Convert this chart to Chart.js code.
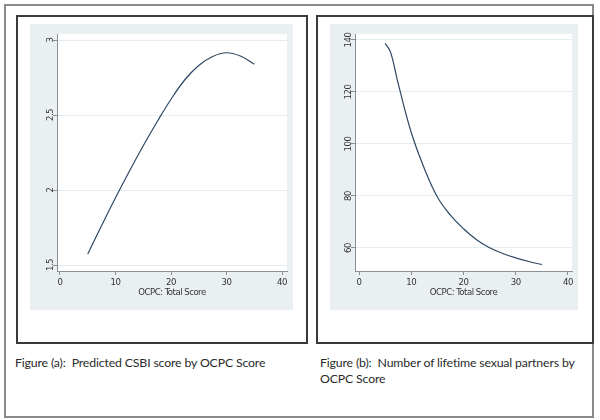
<!DOCTYPE html>
<html>
<head>
<meta charset="utf-8">
<script src="https://cdn.jsdelivr.net/npm/chart.js@4.4.0/dist/chart.umd.min.js"></script>
<style>
  body { margin: 0; background: #fff; width: 600px; height: 420px; position: relative; overflow: hidden; }
  .box { position: absolute; box-sizing: border-box; }
  #outer { left: 4px; top: 4px; width: 590px; height: 414px; border: 2px solid #8a8a8a; }
  #panelA { left: 16px; top: 15px; width: 292px; height: 329px; border: 2px solid #3a3a3a; }
  #panelB { left: 316px; top: 15px; width: 278px; height: 329px; border: 2px solid #3a3a3a; }
  canvas { position: absolute; background: #eaf0f2; }
  #chartA { left: 30px; top: 24px; }
  #chartB { left: 330px; top: 24px; }
  .caption { position: absolute; font-family: Lato, "Open Sans", sans-serif; font-size: 12.3px; letter-spacing: -0.15px; color: #2a2a2a; line-height: 16px; white-space: nowrap; }
</style>
</head>
<body>
<div class="box" id="outer"></div>
<div class="box" id="panelA"></div>
<div class="box" id="panelB"></div>
<canvas id="chartA" width="263" height="286"></canvas>
<canvas id="chartB" width="248" height="286"></canvas>
<div class="caption" style="left:15px; top:355px;">Figure (a):&nbsp; Predicted CSBI score by OCPC Score</div>
<div class="caption" style="left:320px; top:355px;">Figure (b):&nbsp; Number of lifetime sexual partners by<br>OCPC Score</div>

<script>
// shared x axis
const xTicks = [0, 10, 20, 30, 40];
const xTitle = 'OCPC: Total Score';

// (a) predicted CSBI score
const scoreA = [5, 7.5, 10, 12.5, 15, 17.5, 20, 22.5, 25, 27.5, 30, 32.5, 35];
const csbiPredicted = [1.573, 1.763, 1.948, 2.125, 2.295, 2.455, 2.605, 2.735, 2.83, 2.89, 2.915, 2.893, 2.838];
const csbiTicks = [1.5, 2, 2.5, 3];

// (b) number of lifetime sexual partners
const scoreB = [5, 6, 7.5, 10, 12.5, 15, 17.5, 20, 22.5, 25, 27.5, 30, 32.5, 35];
const partnersPredicted = [138.7, 135.5, 123.2, 104.4, 90.6, 79.6, 72.6, 67.4, 63.2, 60.1, 57.9, 56.2, 54.8, 53.6];
const partnerTicks = [60, 80, 100, 120, 140];

const axisColor = '#8a9096';
const gridColor = '#e4ecef';
const lineColor = '#2e4863';
const tickFont = { family: '"Liberation Sans Narrow", "DejaVu Sans Condensed", sans-serif', size: 9.5 };

// white plot region on the grey graph region, and tighter text like Stata's narrow font
const plotBg = {
    id: 'plotBg',
    beforeUpdate(chart) {
        chart.ctx.letterSpacing = '-0.5px';
    },
    beforeDraw(chart) {
        const a = chart.chartArea;
        const ctx = chart.ctx;
        ctx.save();
        ctx.fillStyle = '#ffffff';
        ctx.fillRect(a.left, a.top, a.right - a.left, a.bottom - a.top);
        ctx.restore();
    }
};

function makeChart(id, xs, ys, yTicks, xRange, yRange, yWidth, yPad) {
    return new Chart(document.getElementById(id), {
        type: 'line',
        data: {
            datasets: [{
                data: xs.map((x, i) => ({ x: x, y: ys[i] })),
                borderColor: lineColor,
                borderWidth: 1.2,
                pointRadius: 0,
                fill: false,
                tension: 0.4
            }]
        },
        options: {
            responsive: false,
            animation: false,
            layout: { padding: { top: 10, right: 6, left: 0, bottom: 0 } },
            plugins: { legend: { display: false }, tooltip: { enabled: false } },
            scales: {
                x: {
                    type: 'linear',
                    min: xRange[0], max: xRange[1],
                    afterBuildTicks: s => { s.ticks = xTicks.map(v => ({ value: v })); },
                    afterFit: s => { s.height = 39; },
                    grid: { drawOnChartArea: false, color: axisColor, tickLength: 4 },
                    border: { display: true, color: axisColor, width: 1 },
                    ticks: { font: tickFont, color: '#333', padding: 2, maxRotation: 0, callback: v => String(v) },
                    title: { display: true, text: xTitle, font: { family: tickFont.family, size: 9.5 }, color: '#333', padding: { top: 0, bottom: 12 } }
                },
                y: {
                    min: yRange[0], max: yRange[1],
                    afterBuildTicks: s => { s.ticks = yTicks.map(v => ({ value: v })); },
                    afterFit: s => { s.width = yWidth; },
                    grid: { color: gridColor, tickColor: axisColor, tickLength: 4 },
                    border: { display: true, color: axisColor, width: 1 },
                    ticks: { font: tickFont, color: '#333', padding: yPad, minRotation: 90, maxRotation: 90, crossAlign: 'center', callback: v => String(v) }
                }
            }
        },
        plugins: [plotBg]
    });
}

makeChart('chartA', scoreA, csbiPredicted, csbiTicks, [-0.54, 40.9], [1.46, 3.04], 27, -3.5);
makeChart('chartB', scoreB, partnersPredicted, partnerTicks, [-0.77, 40.77], [51.15, 142.3], 25, -4.5);
</script>
</body>
</html>
